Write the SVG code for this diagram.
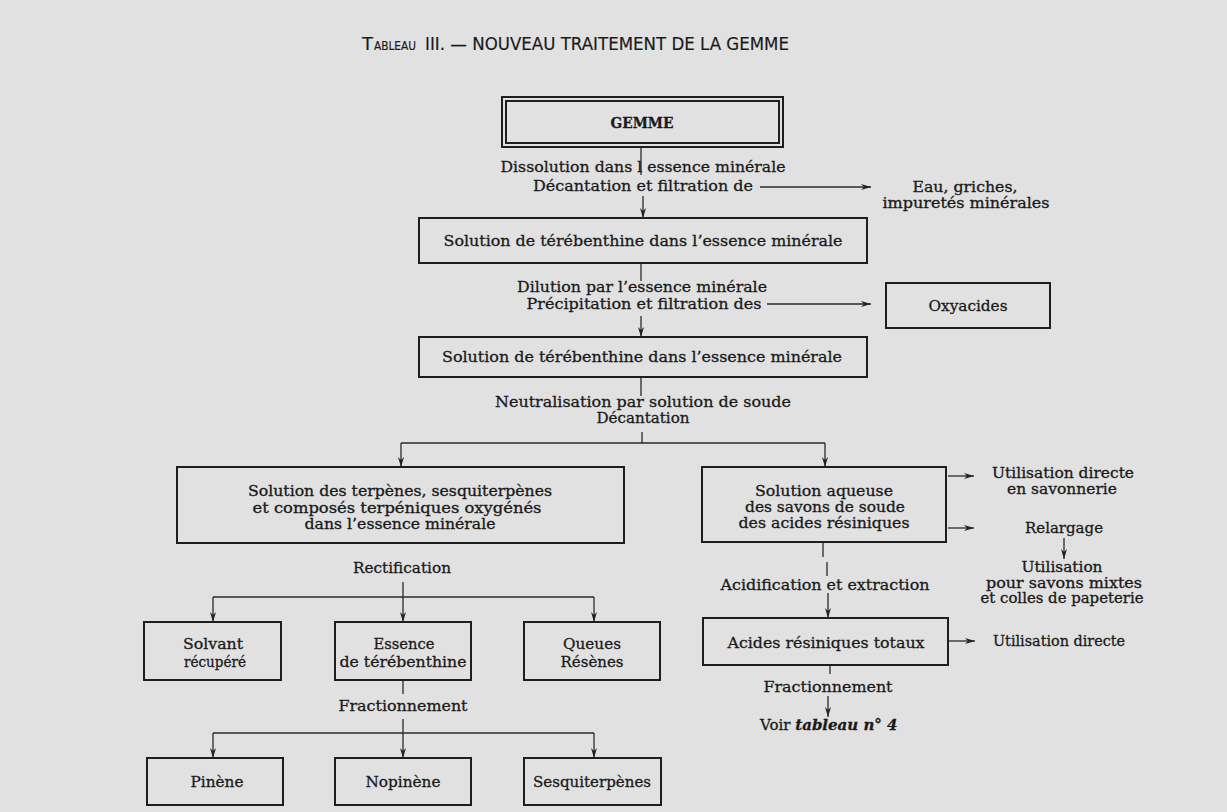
<svg xmlns="http://www.w3.org/2000/svg" width="1227" height="812" viewBox="0 0 1227 812">
<defs>
<style>
.bg{fill:#e1e1e1}
.t{font-family:"DejaVu Serif","Liberation Serif",serif;font-size:15px;fill:#1a1a1a;stroke:#1a1a1a;stroke-width:0.3;text-anchor:middle}
.m{font-size:14px}
.s{text-anchor:start}
.ttl{font-family:"DejaVu Sans","Liberation Sans",sans-serif;font-size:18.5px;fill:#1a1a1a;stroke:#1a1a1a;stroke-width:0.2}
.sc{font-size:12px}
.box{fill:none;stroke:#1e1e1e;stroke-width:2}
.ln{fill:none;stroke:#2a2a2a;stroke-width:1.3}
.ar{marker-end:url(#ah)}
</style>
<marker id="ah" viewBox="0 0 10 6" refX="10" refY="3" markerWidth="10" markerHeight="6" markerUnits="userSpaceOnUse" orient="auto">
<path d="M0,0 L10,3 L0,6 L3,3 z" fill="#222"/>
</marker>
</defs>
<rect class="bg" x="0" y="0" width="1227" height="812"/>

<g id="title">
<text class="ttl" x="362" y="50" textLength="11" lengthAdjust="spacingAndGlyphs">T</text>
<text class="ttl sc" x="374" y="50" textLength="42" lengthAdjust="spacingAndGlyphs">ABLEAU</text>
<text class="ttl" x="425" y="50" textLength="364" lengthAdjust="spacingAndGlyphs">III. — NOUVEAU TRAITEMENT DE LA GEMME</text>
</g>

<g id="connectors">
<path class="ln" d="M641,147 V175"/>
<path class="ln ar" d="M643,196 V218"/>
<path class="ln ar" d="M760,187 H871"/>
<path class="ln" d="M641,263 V281"/>
<path class="ln ar" d="M641,316 V337"/>
<path class="ln ar" d="M767,304 H871"/>
<path class="ln" d="M641,377 V396"/>
<path class="ln" d="M642,432 V443 M401,443 H825"/>
<path class="ln ar" d="M401,443 V467"/>
<path class="ln ar" d="M825,443 V467"/>
<path class="ln ar" d="M948,476 H974"/>
<path class="ln ar" d="M948,528 H974"/>
<path class="ln ar" d="M1064,538 V559"/>
<path class="ln" d="M823,542 V557 M827,562 V576"/>
<path class="ln ar" d="M828,593 V618"/>
<path class="ln ar" d="M948,641 H975"/>
<path class="ln" d="M830,665 V674"/>
<path class="ln ar" d="M828,696 V717"/>
<path class="ln" d="M403,582 V597 M213,597 H594"/>
<path class="ln ar" d="M213,597 V622"/>
<path class="ln ar" d="M403,597 V622"/>
<path class="ln ar" d="M594,597 V622"/>
<path class="ln" d="M403,680 V694 M403,719 V733 M213,733 H594"/>
<path class="ln ar" d="M213,733 V758"/>
<path class="ln ar" d="M403,733 V758"/>
<path class="ln ar" d="M594,733 V758"/>
</g>

<g id="labels">
<text class="t" x="643" y="172" textLength="285" lengthAdjust="spacingAndGlyphs">Dissolution dans l essence minérale</text>
<text class="t" x="643" y="191" textLength="220" lengthAdjust="spacingAndGlyphs">Décantation et filtration de</text>
<text class="t" x="642" y="292" textLength="250" lengthAdjust="spacingAndGlyphs">Dilution par l’essence minérale</text>
<text class="t" x="644" y="309" textLength="235" lengthAdjust="spacingAndGlyphs">Précipitation et filtration des</text>
<text class="t" x="643" y="407" textLength="296" lengthAdjust="spacingAndGlyphs">Neutralisation par solution de soude</text>
<text class="t" x="643" y="423" textLength="93" lengthAdjust="spacingAndGlyphs">Décantation</text>
<text class="t" x="825" y="590" textLength="209" lengthAdjust="spacingAndGlyphs">Acidification et extraction</text>
<text class="t" x="828" y="692" textLength="129" lengthAdjust="spacingAndGlyphs">Fractionnement</text>
<text class="t" x="402" y="573" textLength="98" lengthAdjust="spacingAndGlyphs">Rectification</text>
<text class="t" x="403" y="711" textLength="129" lengthAdjust="spacingAndGlyphs">Fractionnement</text>
</g>

<g id="n-gemme">
<rect class="box" x="502" y="97" width="281" height="50"/>
<rect class="box" x="506" y="101" width="273" height="42" stroke-width="1.5"/>
<text class="t" x="642" y="128" font-weight="bold" textLength="63" lengthAdjust="spacingAndGlyphs">GEMME</text>
</g>

<g id="n-eau">
<text class="t m" x="965" y="192" textLength="105" lengthAdjust="spacingAndGlyphs">Eau, griches,</text>
<text class="t m" x="966" y="208" textLength="167" lengthAdjust="spacingAndGlyphs">impuretés minérales</text>
</g>

<g id="n-solution1">
<rect class="box" x="419" y="218" width="448" height="45"/>
<text class="t" x="643" y="246" textLength="399" lengthAdjust="spacingAndGlyphs">Solution de térébenthine dans l’essence minérale</text>
</g>

<g id="n-oxyacides">
<rect class="box" x="886" y="283" width="164" height="45"/>
<text class="t" x="968" y="311" textLength="79" lengthAdjust="spacingAndGlyphs">Oxyacides</text>
</g>

<g id="n-solution2">
<rect class="box" x="419" y="337" width="448" height="40"/>
<text class="t" x="642" y="362" textLength="400" lengthAdjust="spacingAndGlyphs">Solution de térébenthine dans l’essence minérale</text>
</g>

<g id="n-terpenes">
<rect class="box" x="177" y="467" width="447" height="76"/>
<text class="t m" x="400" y="496" textLength="304" lengthAdjust="spacingAndGlyphs">Solution des terpènes, sesquiterpènes</text>
<text class="t m" x="397" y="512.5" textLength="289" lengthAdjust="spacingAndGlyphs">et composés terpéniques oxygénés</text>
<text class="t m" x="400" y="529" textLength="191" lengthAdjust="spacingAndGlyphs">dans l’essence minérale</text>
</g>

<g id="n-savons">
<rect class="box" x="702" y="467" width="244" height="75"/>
<text class="t m" x="824" y="496" textLength="138" lengthAdjust="spacingAndGlyphs">Solution aqueuse</text>
<text class="t m" x="825" y="512" textLength="160" lengthAdjust="spacingAndGlyphs">des savons de soude</text>
<text class="t m" x="824" y="528" textLength="171" lengthAdjust="spacingAndGlyphs">des acides résiniques</text>
</g>

<g id="n-util-savonnerie">
<text class="t m" x="1063" y="478" textLength="142" lengthAdjust="spacingAndGlyphs">Utilisation directe</text>
<text class="t m" x="1062" y="494" textLength="110" lengthAdjust="spacingAndGlyphs">en savonnerie</text>
</g>

<g id="n-relargage">
<text class="t" x="1064" y="533" textLength="78" lengthAdjust="spacingAndGlyphs">Relargage</text>
</g>

<g id="n-util-mixtes">
<text class="t m" x="1062" y="572" textLength="81" lengthAdjust="spacingAndGlyphs">Utilisation</text>
<text class="t m" x="1064" y="587.5" textLength="156" lengthAdjust="spacingAndGlyphs">pour savons mixtes</text>
<text class="t m" x="1062" y="603" textLength="163" lengthAdjust="spacingAndGlyphs">et colles de papeterie</text>
</g>

<g id="n-acides">
<rect class="box" x="703" y="618" width="245" height="47"/>
<text class="t" x="826" y="648" textLength="197" lengthAdjust="spacingAndGlyphs">Acides résiniques totaux</text>
</g>

<g id="n-util-directe">
<text class="t s" x="993" y="646" textLength="132" lengthAdjust="spacingAndGlyphs">Utilisation directe</text>
</g>

<g id="n-voir">
<text class="t s" x="760" y="730">Voir <tspan font-weight="bold" font-style="italic">tableau n° 4</tspan></text>
</g>

<g id="n-solvant">
<rect class="box" x="144" y="622" width="137" height="58"/>
<text class="t" x="213" y="649" textLength="60" lengthAdjust="spacingAndGlyphs">Solvant</text>
<text class="t" x="215" y="667" textLength="62" lengthAdjust="spacingAndGlyphs">récupéré</text>
</g>

<g id="n-essence">
<rect class="box" x="335" y="622" width="136" height="58"/>
<text class="t" x="404" y="649" textLength="61" lengthAdjust="spacingAndGlyphs">Essence</text>
<text class="t" x="403" y="667" textLength="127" lengthAdjust="spacingAndGlyphs">de térébenthine</text>
</g>

<g id="n-queues">
<rect class="box" x="524" y="622" width="136" height="58"/>
<text class="t" x="592" y="649" textLength="58" lengthAdjust="spacingAndGlyphs">Queues</text>
<text class="t" x="592" y="667" textLength="63" lengthAdjust="spacingAndGlyphs">Résènes</text>
</g>

<g id="n-pinene">
<rect class="box" x="147" y="758" width="136" height="47"/>
<text class="t" x="217" y="787" textLength="53" lengthAdjust="spacingAndGlyphs">Pinène</text>
</g>

<g id="n-nopinene">
<rect class="box" x="335" y="758" width="136" height="47"/>
<text class="t" x="403" y="787" textLength="75" lengthAdjust="spacingAndGlyphs">Nopinène</text>
</g>

<g id="n-sesqui">
<rect class="box" x="524" y="758" width="137" height="47"/>
<text class="t" x="592" y="787" textLength="118" lengthAdjust="spacingAndGlyphs">Sesquiterpènes</text>
</g>
</svg>
